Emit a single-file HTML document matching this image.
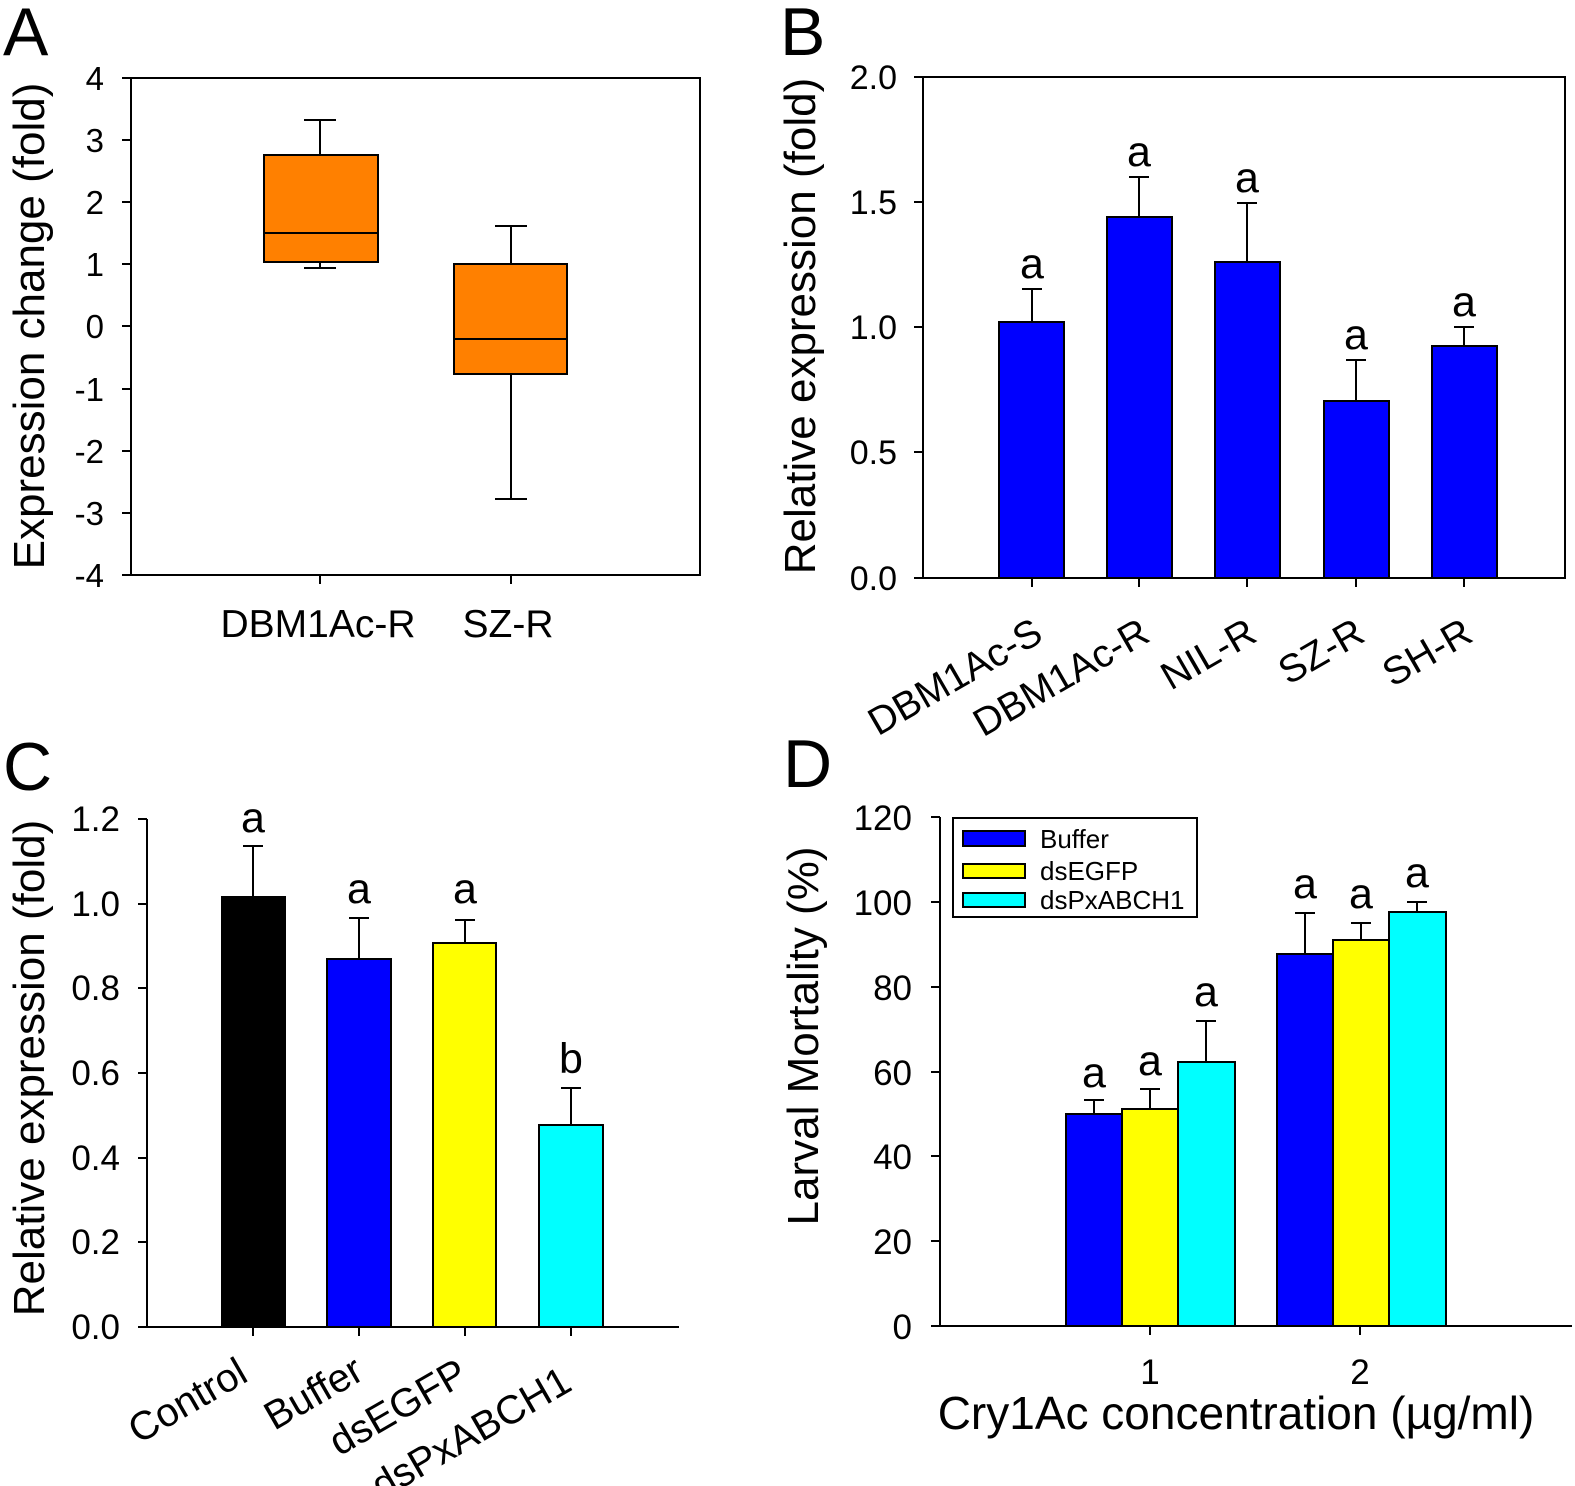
<!DOCTYPE html>
<html><head><meta charset="utf-8"><style>
html,body{margin:0;padding:0;background:#fff}
svg{display:block}
text{font-family:"Liberation Sans",Arial,sans-serif;fill:#000}
</style></head><body>
<svg width="1575" height="1486" viewBox="0 0 1575 1486" xmlns="http://www.w3.org/2000/svg">
<g stroke="#000" stroke-width="2" fill="none">
<rect x="131" y="78" width="569" height="497"/>
<path d="M122 78H131M122 140H131M122 202H131M122 264H131M122 326H131M122 389H131M122 451H131M122 513H131M122 575H131"/>
<path d="M320 575V584M511 575V584"/>
</g>
<g font-size="33" text-anchor="end">
<text x="104" y="90">4</text><text x="104" y="152">3</text><text x="104" y="214">2</text><text x="104" y="276">1</text>
<text x="104" y="338">0</text><text x="104" y="401">-1</text><text x="104" y="463">-2</text><text x="104" y="525">-3</text><text x="104" y="587">-4</text>
</g>
<g stroke="#000" stroke-width="2">
<line x1="320" y1="120" x2="320" y2="155"/><line x1="304" y1="120" x2="336" y2="120"/>
<line x1="320" y1="262" x2="320" y2="268"/><line x1="304" y1="268" x2="336" y2="268"/>
<rect x="264" y="155" width="114" height="107" fill="#ff8000"/>
<line x1="264" y1="233" x2="378" y2="233"/>
<line x1="511" y1="226" x2="511" y2="264"/><line x1="495" y1="226" x2="527" y2="226"/>
<line x1="511" y1="374" x2="511" y2="499"/><line x1="495" y1="499" x2="527" y2="499"/>
<rect x="454" y="264" width="113" height="110" fill="#ff8000"/>
<line x1="454" y1="339" x2="567" y2="339"/>
</g>
<text x="318" y="637" font-size="39" text-anchor="middle">DBM1Ac-R</text>
<text x="508" y="637" font-size="39" text-anchor="middle">SZ-R</text>
<text transform="translate(44,326) rotate(-90)" font-size="44" text-anchor="middle">Expression change (fold)</text>
<text x="3" y="55" font-size="68">A</text>

<!-- Panel B -->
<g stroke="#000" stroke-width="2" fill="none">
<rect x="923" y="77" width="642" height="501"/>
<path d="M914 77H923M914 202H923M914 327H923M914 452H923M914 578H923"/>
<path d="M1032 578V587M1139 578V587M1247 578V587M1356 578V587M1464 578V587"/>
</g>
<g font-size="34" text-anchor="end">
<text x="897" y="89">2.0</text><text x="897" y="214">1.5</text><text x="897" y="339">1.0</text><text x="897" y="464">0.5</text><text x="897" y="590">0.0</text>
</g>
<g stroke="#000" stroke-width="2" fill="#0000ff">
<line x1="1032" y1="289" x2="1032" y2="322"/><line x1="1022" y1="289" x2="1042" y2="289"/>
<line x1="1139" y1="177" x2="1139" y2="217"/><line x1="1129" y1="177" x2="1149" y2="177"/>
<line x1="1247" y1="203" x2="1247" y2="262"/><line x1="1237" y1="203" x2="1257" y2="203"/>
<line x1="1356" y1="360" x2="1356" y2="401"/><line x1="1346" y1="360" x2="1366" y2="360"/>
<line x1="1464" y1="327" x2="1464" y2="346"/><line x1="1454" y1="327" x2="1474" y2="327"/>
<rect x="999" y="322" width="65" height="256"/>
<rect x="1107" y="217" width="65" height="361"/>
<rect x="1215" y="262" width="65" height="316"/>
<rect x="1324" y="401" width="65" height="177"/>
<rect x="1432" y="346" width="65" height="232"/>
</g>
<g font-size="43" text-anchor="middle">
<text x="1032" y="278">a</text><text x="1139" y="166">a</text><text x="1247" y="192">a</text><text x="1356" y="349">a</text><text x="1464" y="316">a</text>
</g>
<g font-size="39" text-anchor="end">
<text transform="translate(1045,640) rotate(-30)">DBM1Ac-S</text>
<text transform="translate(1152,640) rotate(-30)">DBM1Ac-R</text>
<text transform="translate(1259,640) rotate(-30)">NIL-R</text>
<text transform="translate(1367,640) rotate(-30)">SZ-R</text>
<text transform="translate(1475,640) rotate(-30)">SH-R</text>
</g>
<text transform="translate(815,326) rotate(-90)" font-size="44" text-anchor="middle">Relative expression (fold)</text>
<text x="780" y="55" font-size="68">B</text>

<!-- Panel C -->
<g stroke="#000" stroke-width="2" fill="none">
<path d="M147 819V1327H679"/>
<path d="M138 819H147M138 904H147M138 988H147M138 1073H147M138 1158H147M138 1242H147M138 1327H147"/>
<path d="M253 1327V1336M359 1327V1336M465 1327V1336M571 1327V1336"/>
</g>
<g font-size="35" text-anchor="end">
<text x="120" y="831">1.2</text><text x="120" y="916">1.0</text><text x="120" y="1000">0.8</text><text x="120" y="1085">0.6</text><text x="120" y="1170">0.4</text><text x="120" y="1254">0.2</text><text x="120" y="1339">0.0</text>
</g>
<g stroke="#000" stroke-width="2">
<line x1="253" y1="846" x2="253" y2="897"/><line x1="243" y1="846" x2="263" y2="846"/>
<line x1="359" y1="918" x2="359" y2="959"/><line x1="349" y1="918" x2="369" y2="918"/>
<line x1="465" y1="920" x2="465" y2="943"/><line x1="455" y1="920" x2="475" y2="920"/>
<line x1="571" y1="1088" x2="571" y2="1125"/><line x1="561" y1="1088" x2="581" y2="1088"/>
<rect x="222" y="897" width="63" height="430" fill="#000"/>
<rect x="327" y="959" width="64" height="368" fill="#0000ff"/>
<rect x="433" y="943" width="63" height="384" fill="#ffff00"/>
<rect x="539" y="1125" width="64" height="202" fill="#00ffff"/>
</g>
<g font-size="43" text-anchor="middle">
<text x="253" y="832">a</text><text x="359" y="903">a</text><text x="465" y="903">a</text><text x="571" y="1073">b</text>
</g>
<g font-size="40" text-anchor="end">
<text transform="translate(250,1380) rotate(-30)">Control</text>
<text transform="translate(366,1378) rotate(-30)">Buffer</text>
<text transform="translate(470,1381) rotate(-30)">dsEGFP</text>
<text transform="translate(574,1389) rotate(-30)">dsPxABCH1</text>
</g>
<text transform="translate(44,1068) rotate(-90)" font-size="44" text-anchor="middle">Relative expression (fold)</text>
<text x="3" y="790" font-size="68">C</text>

<!-- Panel D -->
<g stroke="#000" stroke-width="2" fill="none">
<path d="M940 817V1326H1572"/>
<path d="M931 817H940M931 902H940M931 987H940M931 1072H940M931 1156H940M931 1241H940M931 1326H940"/>
<path d="M1150 1326V1335M1360 1326V1335"/>
</g>
<g font-size="35" text-anchor="end">
<text x="912" y="830">120</text><text x="912" y="915">100</text><text x="912" y="1000">80</text><text x="912" y="1085">60</text><text x="912" y="1169">40</text><text x="912" y="1254">20</text><text x="912" y="1339">0</text>
</g>
<g stroke="#000" stroke-width="2">
<line x1="1094" y1="1100" x2="1094" y2="1114"/><line x1="1084" y1="1100" x2="1104" y2="1100"/>
<line x1="1150" y1="1089" x2="1150" y2="1109"/><line x1="1140" y1="1089" x2="1160" y2="1089"/>
<line x1="1206" y1="1021" x2="1206" y2="1062"/><line x1="1196" y1="1021" x2="1216" y2="1021"/>
<line x1="1305" y1="913" x2="1305" y2="954"/><line x1="1295" y1="913" x2="1315" y2="913"/>
<line x1="1361" y1="923" x2="1361" y2="940"/><line x1="1351" y1="923" x2="1371" y2="923"/>
<line x1="1417" y1="902" x2="1417" y2="912"/><line x1="1407" y1="902" x2="1427" y2="902"/>
<rect x="1066" y="1114" width="56" height="212" fill="#0000ff"/>
<rect x="1122" y="1109" width="56" height="217" fill="#ffff00"/>
<rect x="1178" y="1062" width="57" height="264" fill="#00ffff"/>
<rect x="1277" y="954" width="56" height="372" fill="#0000ff"/>
<rect x="1333" y="940" width="56" height="386" fill="#ffff00"/>
<rect x="1389" y="912" width="57" height="414" fill="#00ffff"/>
<rect x="953" y="818" width="244" height="99" fill="#fff"/>
<rect x="963" y="831" width="62" height="15" fill="#0000ff"/>
<rect x="963" y="864" width="62" height="14" fill="#ffff00"/>
<rect x="963" y="893" width="62" height="14" fill="#00ffff"/>
</g>
<g font-size="26">
<text x="1040" y="848">Buffer</text><text x="1040" y="880">dsEGFP</text><text x="1040" y="909">dsPxABCH1</text>
</g>
<g font-size="43" text-anchor="middle">
<text x="1094" y="1087">a</text><text x="1150" y="1075">a</text><text x="1206" y="1006">a</text>
<text x="1305" y="898">a</text><text x="1361" y="908">a</text><text x="1417" y="887">a</text>
</g>
<text x="1150" y="1384" font-size="35" text-anchor="middle">1</text>
<text x="1360" y="1384" font-size="35" text-anchor="middle">2</text>
<text x="1236" y="1429" font-size="46" text-anchor="middle">Cry1Ac concentration (µg/ml)</text>
<text transform="translate(818,1036) rotate(-90)" font-size="44" text-anchor="middle">Larval Mortality (%)</text>
<text x="783" y="787" font-size="68">D</text>
</svg>
</body></html>
